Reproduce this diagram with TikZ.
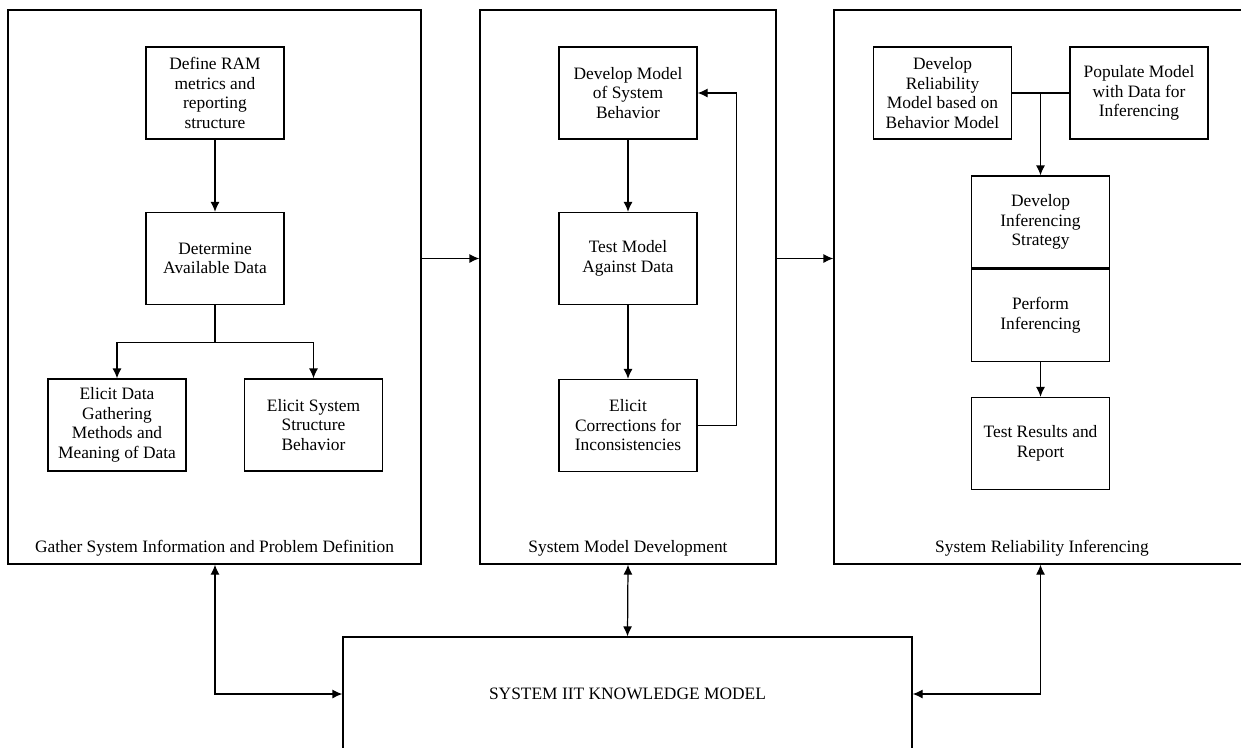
\documentclass[tikz,border=0pt]{standalone}
\usepackage{fontspec}
\setmainfont{Liberation Serif}
\usepackage{tikz}
\usetikzlibrary{arrows.meta,calc,positioning}
\newcommand{\boxw}{2.76cm}
\newcommand{\boxh}{1.84cm}
\newcommand{\txtsize}{\fontsize{9.9}{11.1}\selectfont}
\tikzset{
    node style box/.style={draw,rectangle,minimum width=\boxw,minimum height=\boxh,align=center,inner sep=2pt,font=\txtsize},
    node style panel/.style={draw,rectangle,minimum height=11.08cm},
    node style title/.style={font=\txtsize},
}
\begin{document}
\begin{tikzpicture}[>={Latex[length=2mm,width=1.8mm]},line width=0.7pt]
   \useasboundingbox (0,0) rectangle (24.82,-14.94);
   % the three stages
   \node[node style panel,minimum width=8.26cm] (gather) at (4.29,-5.74) {};
   \node[node style panel,minimum width=5.92cm] (develop) at (12.56,-5.74) {};
   \node[node style panel,minimum width=8.32cm] (infer) at (20.84,-5.74) {};
   \node[node style title,above=1pt of gather.south] {Gather System Information and Problem Definition};
   \node[node style title,above=1pt of develop.south] {System Model Development};
   \node[node style title,above=1pt of infer.south] {System Reliability Inferencing};

   \node[node style box] (ram) at (4.30,-1.86) {Define RAM\\metrics and\\reporting\\structure};
   \node[node style box] (avail) at (4.30,-5.17) {Determine\\Available Data};
   \node[node style box] (gathering) at (2.34,-8.50) {Elicit Data\\Gathering\\Methods and\\Meaning of Data};
   \node[node style box] (structure) at (6.27,-8.50) {Elicit System\\Structure\\Behavior};

   \node[node style box] (behav) at (12.56,-1.86) {Develop Model\\of System\\Behavior};
   \node[node style box] (test) at (12.56,-5.17) {Test Model\\Against Data};
   \node[node style box] (correct) at (12.56,-8.51) {Elicit\\Corrections for\\Inconsistencies};

   \node[node style box] (relmodel) at (18.85,-1.86) {Develop\\Reliability\\Model based on\\Behavior Model};
   \node[node style box] (populate) at (22.78,-1.86) {Populate Model\\with Data for\\Inferencing};
   \node[node style box] (strategy) at (20.81,-4.44) {Develop\\Inferencing\\Strategy};
   \node[node style box,below=0pt of strategy] (perform) {Perform\\Inferencing};
   \node[node style box] (report) at (20.81,-8.87) {Test Results and\\Report};

   \node[draw,node style title,minimum width=11.38cm,minimum height=2.28cm] (knowledge) at (12.55,-13.88) {SYSTEM IIT KNOWLEDGE MODEL};

   % inside the stages
   \draw[->] (ram) -- (avail);
   \coordinate (split) at ($(avail.south)+(0,-0.74)$);
   \draw (avail.south) -- (split);
   \draw[->] (split) -| (gathering.north);
   \draw[->] (split) -| (structure.north);

   \draw[->] (behav) -- (test);
   \draw[->] (test) -- (correct);
   \draw[->] (correct.east) -- ++(0.78,0) |- (behav.east);

   \draw (relmodel.east) -- (populate.west);
   \draw[->] (strategy.north |- relmodel.east) -- (strategy.north);
   \draw[->] (perform) -- (report);

   % between the stages
   \draw[->] (gather.east |- avail) -- (develop.west |- avail);
   \draw[->] (develop.east |- test) -- (infer.west |- test);
   \draw[<->] (gather.south -| avail) |- (knowledge.west);
   \draw[<->] (develop.south) -- (knowledge.north);
   \draw[<->] (infer.south -| strategy) |- (knowledge.east);
\end{tikzpicture}
\end{document}
